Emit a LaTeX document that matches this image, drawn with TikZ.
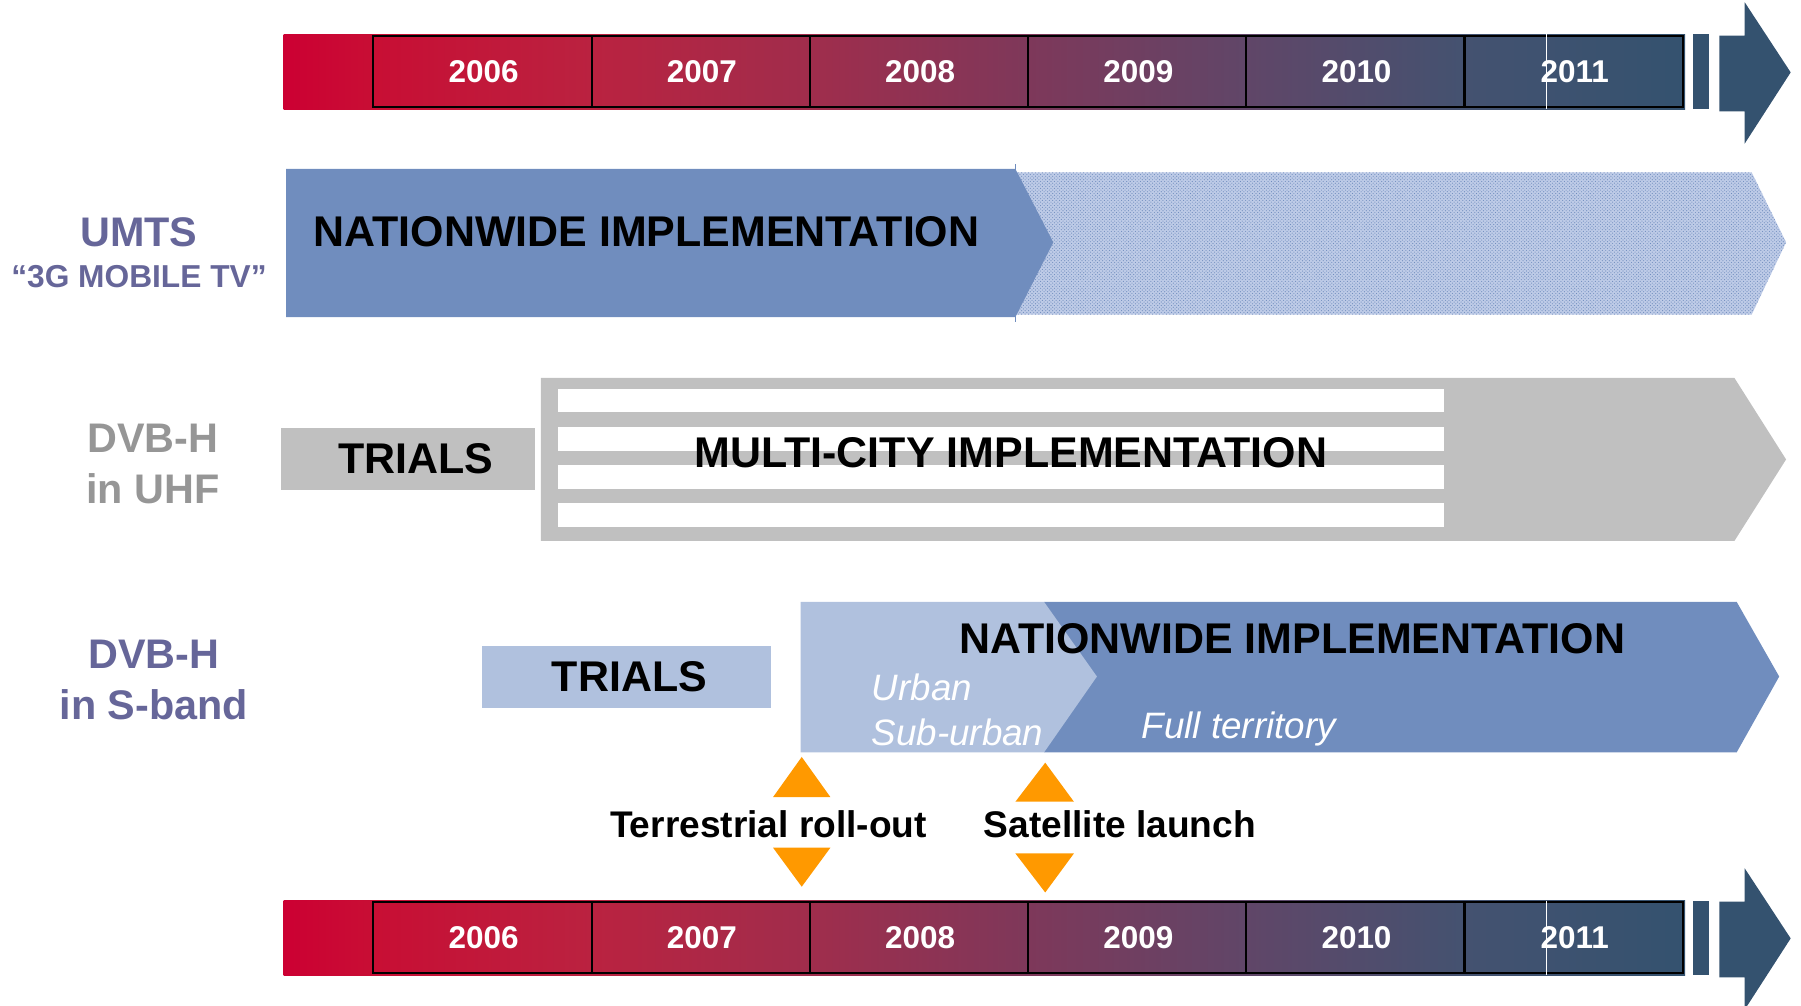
\documentclass[tikz,border=0pt]{standalone}
\usepackage{fontspec}
\setmainfont{Liberation Sans}
\usetikzlibrary{patterns}

\definecolor{barred}{RGB}{204,0,51}
\definecolor{barblue}{RGB}{52,82,111}
\definecolor{deepblue}{RGB}{112,141,190}
\definecolor{paleblue}{RGB}{176,193,222}
\definecolor{hatchbase}{RGB}{190,203,231}
\definecolor{barsilver}{RGB}{192,192,192}
\definecolor{labelpurple}{RGB}{102,102,153}
\definecolor{labelgray}{RGB}{150,150,150}
\definecolor{marker}{RGB}{255,153,0}

% colour run of the year scale, red on the left to slate blue on the right
\definecolor{ys1}{RGB}{200,14,52}
\definecolor{ys2}{RGB}{186,34,64}
\definecolor{ys3}{RGB}{160,45,76}
\definecolor{ys4}{RGB}{126,56,90}
\definecolor{ys5}{RGB}{96,70,104}
\definecolor{ys6}{RGB}{68,82,112}
\pgfdeclarehorizontalshading{yearshade}{100bp}{%
  color(0bp)=(barred); color(25bp)=(barred); color(28.2bp)=(ys1);
  color(36bp)=(ys2); color(43.75bp)=(ys3); color(51.55bp)=(ys4);
  color(59.35bp)=(ys5); color(67.15bp)=(ys6); color(75bp)=(barblue);
  color(100bp)=(barblue)}

\tikzset{
  txt/.style={inner sep=0pt, outer sep=0pt},
  yearlabel/.style={txt, anchor=base, text=white,
    font=\bfseries\fontsize{27.4}{30}\selectfont},
  rowlabel/.style={txt, anchor=base,
    font=\bfseries\fontsize{36}{40}\selectfont},
  sublabel/.style={txt, anchor=base,
    font=\bfseries\fontsize{27.6}{30}\selectfont},
  phase/.style={txt, anchor=base, text=black,
    font=\bfseries\fontsize{37.4}{42}\selectfont},
  note/.style={txt, anchor=base west, text=white,
    font=\itshape\fontsize{32}{36}\selectfont},
  milestone/.style={txt, anchor=base, text=black,
    font=\bfseries\fontsize{32.3}{36}\selectfont},
  yearbox/.style={draw=black, line width=1.8pt},
  marktri/.style={fill=marker},
}

\begin{document}
\begin{tikzpicture}[x=1pt, y=-1pt]
\useasboundingbox (0,0) rectangle (1568,875);
\clip (0,0) rectangle (1568,875);

% ---- year scales (top and bottom) ----
\foreach \row/\dy in {top/0, bottom/754} {
  \begin{scope}[yshift=-\dy pt]
    \shade[shading=yearshade] (247,30) rectangle (1467,95);
    \foreach \yr [count=\i from 0] in {2006,2007,2008,2009,2010,2011} {
      \draw[yearbox] (325+190*\i,31) rectangle ++(190,62);
      \node[yearlabel] (\row-\yr) at (421+190*\i,72) {\yr};
    }
    \draw[white, line width=0.8pt] (1346,30) -- (1346,95);
    \fill[barblue] (1474,30) rectangle (1488,95);
    \fill[barblue] (1497,31) -- (1519,31) -- (1519,2) -- (1559,63)
      -- (1519,125) -- (1519,97) -- (1497,97) -- cycle;
  \end{scope}
}

% ---- UMTS row ----
\fill[hatchbase] (884,150) -- (1525,150) -- (1555,211) -- (1525,274) -- (884,274) -- cycle;
\path[pattern=crosshatch dots, pattern color=deepblue]
  (884,150) -- (1525,150) -- (1555,211) -- (1525,274) -- (884,274) -- cycle;
\fill[deepblue] (249,147) -- (884,147) -- (917,211) -- (884,276) -- (249,276) -- cycle;
\draw[deepblue, line width=1pt] (884,143) -- (884,280);
\node[phase, anchor=base west] (umts-phase) at (273,215) {NATIONWIDE IMPLEMENTATION};
\node[rowlabel, text=labelpurple] (umts) at (121,215) {UMTS};
\node[sublabel, text=labelpurple] (umts-sub) at (121,250) {“3G MOBILE TV”};

% ---- DVB-H in UHF row ----
\node[rowlabel, text=labelgray] (uhf1) at (133,394) {DVB-H};
\node[rowlabel, text=labelgray] (uhf2) at (133,438) {in UHF};
\fill[barsilver] (245,373) rectangle (466,427);
\node[phase] (uhf-trials) at (362,412) {TRIALS};
\fill[barsilver] (471,329) -- (1510,329) -- (1555,400) -- (1510,471) -- (471,471) -- cycle;
\foreach \ya/\yb in {339/359, 372/393, 405/426, 438/459}
  \fill[white] (486,\ya) rectangle (1257,\yb);
\node[phase] (uhf-phase) at (880,407) {MULTI-CITY IMPLEMENTATION};

% ---- DVB-H in S-band row ----
\node[rowlabel, text=labelpurple] (sb1) at (134,582) {DVB-H};
\node[rowlabel, text=labelpurple] (sb2) at (134,626) {in S-band};
\fill[paleblue] (420,562) rectangle (671,616);
\node[phase] (sb-trials) at (548,602) {TRIALS};
\fill[deepblue] (909,524) -- (1512,524) -- (1549,589) -- (1512,655) -- (909,655) -- cycle;
\fill[paleblue] (697,524) -- (909,524) -- (955,589) -- (909,655) -- (697,655) -- cycle;
\node[phase] (sb-phase) at (1125,569) {NATIONWIDE IMPLEMENTATION};
\node[note] (urban) at (759,610) {Urban};
\node[note] (suburban) at (759,649) {Sub-urban};
\node[note] (full) at (994,643) {Full territory};

% ---- milestones ----
\fill[marktri] (698,659) -- (723,694) -- (673,694) -- cycle;
\fill[marktri] (673,738) -- (723,738) -- (698,772) -- cycle;
\fill[marktri] (910,664) -- (935,698) -- (884,698) -- cycle;
\fill[marktri] (884,743) -- (935,743) -- (910,777) -- cycle;
\node[milestone] (terr) at (669,729) {Terrestrial roll-out};
\node[milestone] (sat) at (975,729) {Satellite launch};
\end{tikzpicture}
\end{document}
